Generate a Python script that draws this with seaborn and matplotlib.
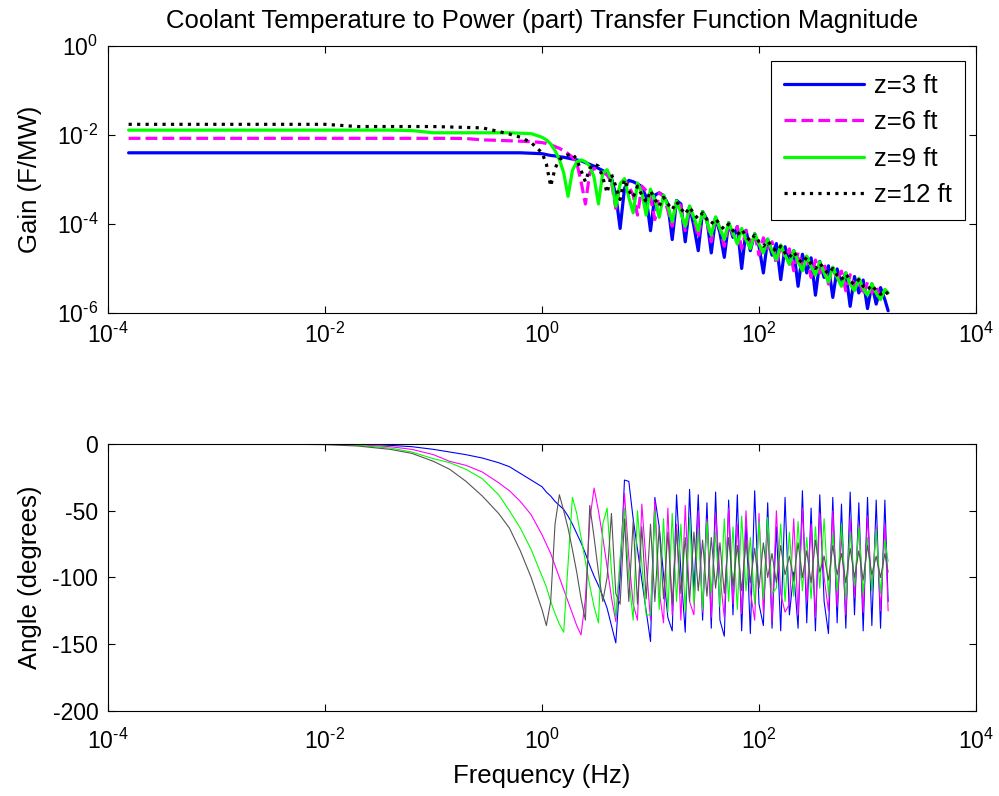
import numpy as np
import pandas as pd
import matplotlib
matplotlib.use("Agg")
import matplotlib.pyplot as plt
import seaborn as sns
from matplotlib.ticker import NullLocator, FuncFormatter

# ---------------- data ----------------
SERIES = ["z=3 ft", "z=6 ft", "z=9 ft", "z=12 ft"]

# log10 of frequency in Hz (shared frequency grid)
LOG10_FREQ = [
    -3.81, -3.5, -3.0, -2.5, -2.0, -1.7, -1.4, -1.2, -1.0, -0.85, -0.7, -0.55, -0.4, -0.3, -0.2, -0.1,
    0.00, 0.04, 0.08, 0.12, 0.16, 0.20, 0.24, 0.28, 0.32, 0.36,
    0.40, 0.44, 0.48, 0.52, 0.56, 0.60, 0.64, 0.68, 0.72, 0.76,
    0.80, 0.84, 0.88, 0.92, 0.96, 1.00, 1.04, 1.08, 1.12, 1.16,
    1.20, 1.24, 1.28, 1.32, 1.36, 1.40, 1.44, 1.48, 1.52, 1.56,
    1.60, 1.64, 1.68, 1.72, 1.76, 1.80, 1.84, 1.88, 1.92, 1.96,
    2.00, 2.04, 2.08, 2.12, 2.16, 2.20, 2.24, 2.28, 2.32, 2.36,
    2.40, 2.44, 2.48, 2.52, 2.56, 2.60, 2.64, 2.68, 2.72, 2.76,
    2.80, 2.84, 2.88, 2.92, 2.96, 3.00, 3.04, 3.08, 3.12, 3.16,
    3.19,
]

# log10 of gain (F/MW)
LOG10_GAIN_3FT = [
    -2.40, -2.40, -2.40, -2.40, -2.40, -2.40, -2.40, -2.40, -2.40, -2.40, -2.40, -2.40, -2.40, -2.40, -2.40, -2.41,
    -2.42, -2.44, -2.46, -2.47, -2.49, -2.50, -2.52, -2.54, -2.56, -2.58,
    -2.62, -2.66, -2.70, -2.75, -2.80, -2.86, -2.96, -3.35, -4.10, -3.20,
    -3.02, -3.05, -3.10, -3.16, -3.40, -4.15, -3.35, -3.30, -3.36, -3.55,
    -4.35, -3.47, -3.55, -4.40, -3.60, -4.05, -4.60, -3.72, -3.90, -4.65,
    -3.85, -4.20, -4.75, -3.97, -4.30, -4.06, -5.00, -4.14, -4.60, -4.22,
    -4.50, -5.10, -4.34, -4.70, -4.44, -5.25, -4.51, -4.90, -4.60, -5.40,
    -4.68, -5.10, -4.76, -5.60, -4.84, -5.20, -4.94, -5.65, -5.01, -5.35,
    -5.10, -5.85, -5.18, -5.55, -5.26, -5.90, -5.35, -5.80, -5.43, -5.70,
    -5.95,
]
LOG10_GAIN_6FT = [
    -2.075, -2.075, -2.075, -2.075, -2.075, -2.075, -2.075, -2.075, -2.075, -2.075, -2.08, -2.11, -2.12, -2.13, -2.14, -2.15,
    -2.17, -2.19, -2.22, -2.26, -2.30, -2.35, -2.42, -2.50, -2.62, -3.05,
    -3.55, -2.85, -2.75, -2.80, -2.84, -2.90, -3.05, -3.65, -3.10, -3.00,
    -3.15, -3.35, -3.80, -3.15, -3.25, -3.40, -3.90, -3.30, -3.38, -3.70,
    -4.05, -3.48, -3.60, -4.15, -3.62, -3.90, -4.30, -3.74, -3.95, -4.40,
    -3.86, -4.10, -4.50, -3.98, -4.25, -4.06, -4.55, -4.15, -4.45, -4.23,
    -4.70, -4.31, -4.55, -4.40, -4.90, -4.48, -4.75, -4.56, -5.05, -4.64,
    -4.95, -4.73, -5.20, -4.81, -5.10, -4.89, -5.35, -4.98, -5.25, -5.06,
    -5.50, -5.14, -5.40, -5.23, -5.60, -5.31, -5.55, -5.39, -5.70, -5.48,
    -5.55,
]
LOG10_GAIN_9FT = [
    -1.89, -1.89, -1.89, -1.89, -1.89, -1.89, -1.89, -1.90, -1.95, -1.95, -1.95, -1.95, -1.95, -1.95, -1.96, -1.97,
    -2.05, -2.11, -2.20, -2.35, -2.55, -2.85, -3.38, -2.80, -2.60, -2.56,
    -2.60, -2.70, -2.95, -3.55, -2.85, -2.78, -3.00, -3.60, -3.10, -2.98,
    -3.40, -3.75, -3.08, -3.30, -3.80, -3.22, -3.45, -3.85, -3.35, -3.60,
    -3.95, -3.48, -3.75, -4.05, -3.60, -3.85, -4.15, -3.72, -3.95, -4.25,
    -3.84, -4.10, -4.35, -3.97, -4.20, -4.45, -4.10, -4.35, -4.55, -4.22,
    -4.45, -4.65, -4.34, -4.60, -4.80, -4.47, -4.70, -4.90, -4.60, -4.85,
    -5.05, -4.72, -4.95, -5.15, -4.85, -5.10, -5.30, -4.97, -5.20, -5.40,
    -5.10, -5.35, -5.50, -5.22, -5.45, -5.60, -5.34, -5.55, -5.70, -5.47,
    -5.55,
]
LOG10_GAIN_12FT = [
    -1.76, -1.76, -1.76, -1.76, -1.76, -1.81, -1.81, -1.81, -1.81, -1.82, -1.83, -1.84, -1.92, -1.98, -2.05, -2.17,
    -2.40, -2.65, -3.15, -2.75, -2.55, -2.50, -2.45, -2.42, -2.55, -2.80,
    -3.05, -2.75, -2.65, -2.70, -2.95, -3.30, -2.88, -3.15, -3.45, -3.00,
    -3.25, -3.40, -3.15, -3.35, -3.50, -3.25, -3.45, -3.60, -3.40, -3.55,
    -3.68, -3.50, -3.65, -3.78, -3.62, -3.78, -3.88, -3.75, -3.90, -4.00,
    -3.88, -4.02, -4.12, -4.00, -4.15, -4.25, -4.12, -4.28, -4.38, -4.25,
    -4.40, -4.50, -4.38, -4.52, -4.62, -4.50, -4.65, -4.75, -4.62, -4.78,
    -4.88, -4.75, -4.90, -5.00, -4.88, -5.02, -5.12, -5.00, -5.15, -5.25,
    -5.12, -5.28, -5.36, -5.25, -5.40, -5.48, -5.37, -5.50, -5.58, -5.50,
    -5.58,
]

# phase angle (degrees)
PHASE_3FT = [
    0, 0, 0, 0, 0, 0, -1, -2, -4, -6, -8, -10.5, -14, -17, -22, -27,
    -32, -36, -39, -43, -46, -49, -54, -60, -67, -74,
    -82, -91, -99, -106, -114, -123, -136, -149, -100, -27,
    -28, -56, -79, -102, -125, -148, -40, -62, -98, -130,
    -140, -38, -96, -141, -34, -112, -38, -132, -44, -138,
    -36, -132, -144, -42, -128, -38, -140, -58, -142, -35,
    -120, -136, -44, -138, -62, -140, -40, -128, -96, -138,
    -35, -134, -48, -140, -38, -118, -142, -40, -134, -45,
    -138, -36, -128, -44, -140, -40, -136, -42, -138, -42,
    -118,
]
PHASE_6FT = [
    0, 0, 0, 0, 0, -0.5, -2, -4, -8, -13, -16, -21, -29, -35, -43, -53,
    -68, -75, -82, -91, -100, -109, -118, -127, -136, -143,
    -116, -57, -33, -50, -70, -92, -115, -133, -90, -37,
    -85, -120, -132, -45, -90, -132, -42, -110, -134, -48,
    -128, -60, -132, -46, -118, -128, -50, -126, -56, -130,
    -52, -98, -130, -48, -120, -60, -127, -50, -110, -132,
    -52, -126, -64, -133, -50, -112, -126, -120, -56, -128,
    -48, -118, -60, -130, -52, -100, -125, -50, -122, -68,
    -128, -56, -115, -60, -126, -54, -110, -62, -125, -60,
    -125,
]
PHASE_9FT = [
    0, 0, 0, 0, 0, -1, -3, -6, -11, -14, -19, -26, -38, -50, -63, -79,
    -99, -107, -118, -127, -135, -141, -90, -40, -52, -70,
    -88, -106, -122, -134, -60, -48, -95, -130, -85, -48,
    -100, -132, -50, -90, -128, -128, -50, -124, -56, -126,
    -52, -118, -60, -125, -55, -120, -64, -124, -58, -112,
    -66, -122, -56, -118, -62, -124, -54, -110, -70, -120,
    -58, -116, -55, -112, -108, -60, -118, -66, -114, -58,
    -110, -70, -116, -62, -108, -56, -114, -68, -110, -60,
    -116, -66, -106, -62, -112, -70, -110, -64, -112, -72,
    -88,
]
PHASE_12FT = [
    0, 0, 0, 0, -0.5, -1.5, -4, -7, -13, -19, -28, -39, -52, -63, -80, -100,
    -124, -136, -118, -60, -38, -50, -63, -79, -96, -116,
    -132, -46, -70, -96, -118, -100, -52, -112, -120, -56,
    -118, -58, -120, -62, -116, -60, -118, -62, -116, -66,
    -120, -64, -112, -70, -118, -66, -110, -72, -114, -70,
    -108, -74, -112, -70, -106, -76, -110, -72, -104, -78,
    -108, -74, -100, -82, -104, -76, -98, -84, -102, -74,
    -100, -80, -104, -72, -96, -84, -102, -76, -98, -82,
    -104, -78, -100, -80, -102, -76, -98, -84, -100, -82,
    -96,
]

GAINS = [LOG10_GAIN_3FT, LOG10_GAIN_6FT, LOG10_GAIN_9FT, LOG10_GAIN_12FT]
PHASES = [PHASE_3FT, PHASE_6FT, PHASE_9FT, PHASE_12FT]
for g, p in zip(GAINS, PHASES):
    assert len(g) == len(LOG10_FREQ) and len(p) == len(LOG10_FREQ), (len(g), len(p), len(LOG10_FREQ))

COLORS = ["#0000FF", "#FF00FF", "#00FF00", "#000000"]
PHASE_COLORS = ["#0000FF", "#FF00FF", "#00FF00", "#555555"]
STYLES = ["-", "--", "-", ":"]

# ---------------- build table ----------------
frames = []
for name, g, p in zip(SERIES, GAINS, PHASES):
    frames.append(pd.DataFrame({
        "freq": 10 ** np.array(LOG10_FREQ),
        "gain": 10 ** np.array(g),
        "phase": np.array(p, dtype=float),
        "series": name,
    }))
df = pd.concat(frames, ignore_index=True)

# ---------------- style ----------------
sns.set_style("ticks")
plt.rcParams.update({
    "font.family": ["Liberation Sans", "DejaVu Sans"],
    "mathtext.fontset": "custom",
    "mathtext.rm": "Liberation Sans",
    "mathtext.it": "Liberation Sans:italic",
    "mathtext.bf": "Liberation Sans:bold",
    "axes.unicode_minus": False,
    "axes.edgecolor": "black",
    "axes.labelcolor": "black",
    "text.color": "black",
    "axes.linewidth": 0.8,
    "xtick.color": "black",
    "ytick.color": "black",
})

FS = 18.5
TFS = 16.5


def pow10_label(v, pos):
    e = int(round(np.log10(v)))
    if e < 0:
        return r"$\mathdefault{10^{\text{-}%d}}$" % (-e)
    return r"$\mathdefault{10^{%d}}$" % e


fig = plt.figure(figsize=(9.99, 7.96), dpi=100)
ax1 = fig.add_axes([0.1081, 0.6068, 0.8689, 0.3354])
ax2 = fig.add_axes([0.1081, 0.1068, 0.8689, 0.3354])

for ax in (ax1, ax2):
    ax.set_xscale("log")
ax1.set_yscale("log")

for name, c, ls in zip(SERIES, COLORS, STYLES):
    sns.lineplot(data=df[df["series"] == name], x="freq", y="gain", ax=ax1,
                 color=c, linestyle=ls, linewidth=2.3, label=name,
                 estimator=None, sort=False)
for name, c in zip(SERIES, PHASE_COLORS):
    sns.lineplot(data=df[df["series"] == name], x="freq", y="phase", ax=ax2,
                 color=c, linewidth=0.8, estimator=None, sort=False, legend=False)

for ax, xpad in ((ax1, 7), (ax2, 13)):
    ax.set_xlim(1e-4, 1e4)
    ax.set_xticks([1e-4, 1e-2, 1e0, 1e2, 1e4])
    ax.xaxis.set_minor_locator(NullLocator())
    ax.xaxis.set_major_formatter(FuncFormatter(pow10_label))
    ax.tick_params(which="both", direction="in", top=True, right=True,
                   length=5, width=0.8, labelsize=TFS, pad=7)
    ax.tick_params(axis="x", pad=xpad)
    for s in ax.spines.values():
        s.set_visible(True)
        s.set_linewidth(0.8)
        s.set_color("black")
    ax.set_xlabel("")
    ax.grid(False)

ax1.set_ylim(1e-6, 1e0)
ax1.set_yticks([1e-6, 1e-4, 1e-2, 1e0])
ax1.yaxis.set_minor_locator(NullLocator())
ax1.yaxis.set_major_formatter(FuncFormatter(pow10_label))
ax1.set_ylabel("Gain (F/MW)", fontsize=FS)
ax1.yaxis.set_label_coords(-0.076, 0.5)
ax1.set_title("Coolant Temperature to Power (part) Transfer Function Magnitude",
              fontsize=FS, pad=13)

ax2.set_ylim(-200, 0)
ax2.set_yticks([-200, -150, -100, -50, 0])
ax2.set_ylabel("Angle (degrees)", fontsize=FS)
ax2.yaxis.set_label_coords(-0.076, 0.5)
ax2.set_xlabel("Frequency (Hz)", fontsize=FS)
ax2.xaxis.set_label_coords(0.5, -0.197)

leg = ax1.legend(loc="upper right", bbox_to_anchor=(0.9873, 0.9438),
                 borderaxespad=0, fontsize=FS, frameon=True, fancybox=False,
                 edgecolor="black", framealpha=1, handlelength=3.1,
                 handletextpad=0.4, borderpad=0.5, labelspacing=0.48)
leg.get_frame().set_linewidth(0.8)

fig.savefig("out.png", dpi=100)
